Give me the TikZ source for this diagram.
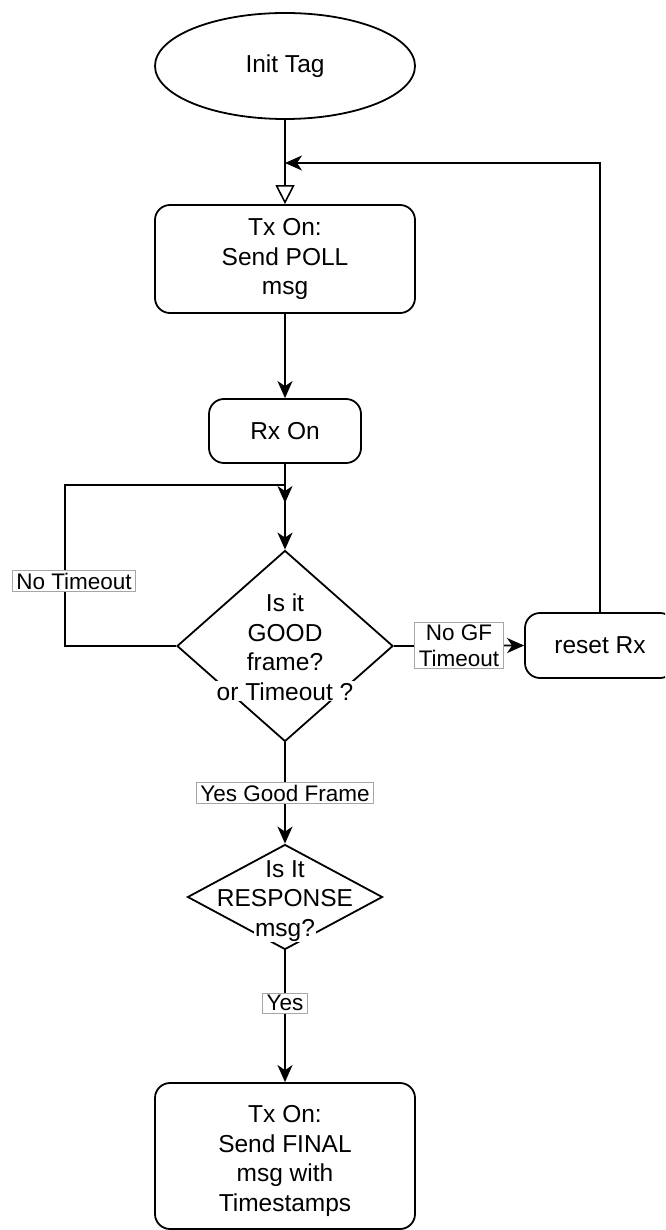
\documentclass[tikz,border=0pt]{standalone}
\usepackage{fontspec}
\setmainfont{Liberation Sans}
\usetikzlibrary{shapes.geometric,arrows.meta}
\newcommand\txtbg[1]{\colorbox{white}{#1}}
\begin{document}
\begin{tikzpicture}[x=1pt,y=-1pt,
  every node/.style={font=\fontsize{24.5}{29.5}\selectfont},
  line/.style={line width=1.8pt, draw=black},
  shapebase/.style={draw, line width=1.8pt, inner sep=0pt, align=center, fill=white},
  rbox/.style={shapebase, rectangle, rounded corners=15pt},
  ell/.style={shapebase, ellipse},
  dia/.style={shapebase, diamond},
  txt/.style={align=center, inner sep=0pt},
  lbl/.style={draw=black!35, line width=0.8pt, fill=white, inner xsep=4pt, inner ysep=2pt,
    align=center, font=\fontsize{22.5}{26}\selectfont},
  arr/.style={-{Stealth[length=17pt,width=15pt,inset=5pt]}},
  openarr/.style={-{Triangle[open,length=19pt,width=19pt,line width=1.6pt]}}
]
\clip (0,0) rectangle (665,1230);
\fill[white] (0,0) rectangle (665,1230);
\setlength\fboxsep{1pt}

% nodes
\node[ell, minimum width=260pt, minimum height=106pt] (init) at (285,66) {Init Tag};
\node[rbox, minimum width=260pt, minimum height=108pt] (poll) at (285,259) {Tx On:\\Send POLL\\msg};
\node[rbox, minimum width=152pt, minimum height=64pt] (rxon) at (285,431) {Rx On};
\node[dia, minimum width=216pt, minimum height=191pt] (good) at (285,646) {};
\node[rbox, minimum width=150pt, minimum height=65pt] (reset) at (600,645.5) {reset Rx};
\node[dia, minimum width=195pt, minimum height=105pt] (resp) at (285,897) {};
\node[rbox, minimum width=260pt, minimum height=146pt] (final) at (285,1156) {};

% texts of diamonds / final box
\node[txt] (goodtxt) at (285,647) {\txtbg{Is it}\\\txtbg{GOOD}\\\txtbg{frame?}\\\txtbg{or Timeout ?}};
\node[txt] (resptxt) at (285,901) {\txtbg{Is It}\\\txtbg{RESPONSE}\\\txtbg{msg?}};
\node[txt] (finaltxt) at (285,1161) {Tx On:\\Send FINAL\\msg with\\Timestamps};

% helper coordinates
\coordinate (join) at (285,163);
\coordinate (loopleft) at (65,485);
\coordinate (loopend) at (285,503);

% connectors
\draw[line, openarr] (init) -- (poll);
\draw[line, arr] (reset.north) |- (join);
\draw[line, arr] (poll) -- (rxon);
\draw[line, arr] (rxon) -- (good);
\draw[line, arr] (good.west) -| (loopleft) -| (loopend);
\node[lbl] (nolbl) at (74,581) {No Timeout};
\draw[line, arr] (good.east) -- (reset.west) node[lbl, midway] {No GF\\Timeout};
\draw[line, arr] (good.south) -- (resp.north) node[lbl, midway] {Yes Good Frame};
\draw[line, arr] (resp.south) -- (final.north) node[lbl, pos=0.4] {Yes};
\end{tikzpicture}
\end{document}
